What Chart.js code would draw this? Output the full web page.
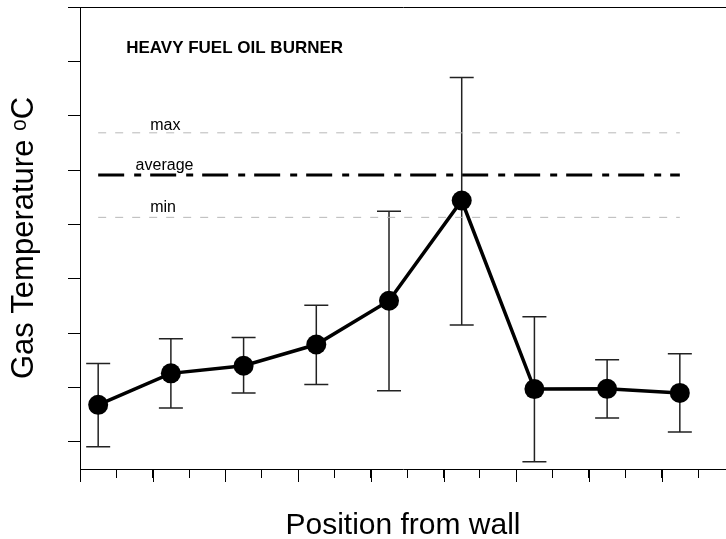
<!DOCTYPE html>
<html>
<head>
<meta charset="utf-8">
<script src="https://cdn.jsdelivr.net/npm/chart.js@4/dist/chart.umd.min.js"></script>
<style>
  html, body { margin: 0; padding: 0; background: #fff; overflow: hidden; }
  canvas { display: block; }
</style>
</head>
<body>
<canvas id="c" width="726" height="539"></canvas>
<script>
// ---- data ----
const positions = [0.5, 2.5, 4.5, 6.5, 8.5, 10.5, 12.5, 14.5, 16.5];
const gasTemp   = [236, 352, 380, 458, 619, 988, 294, 295, 280];
const tempHigh  = [388, 479, 484, 603, 948, 1441, 560, 402, 424];
const tempLow   = [82, 224, 280, 311, 288, 530, 27, 188, 136];
const maxLevel = 1237;
const avgLevel = 1082;
const minLevel = 926;
const refLabels = ['max', 'average', 'min'];
const chartTitle = 'HEAVY FUEL OIL BURNER';
const xTicks = [0,1,2,3,4,5,6,7,8,9,10,11,12,13,14,15,16,17];
const yTicks = [100,300,500,700,900,1100,1300,1500,1700];
const xTitle = 'Position from wall';
const yTitle = 'Gas Temperature \u1D52C';

const FONT = "'Liberation Sans', Arial, sans-serif";

const refLine = (v) => [{x: positions[0], y: v}, {x: positions[positions.length - 1], y: v}];

const extrasPlugin = {
  id: 'extras',
  beforeDatasetsDraw(chart) {
    const {ctx, scales: {x, y}} = chart;
    ctx.save();
    ctx.strokeStyle = '#222';
    ctx.lineWidth = 1.5;
    for (let i = 0; i < positions.length; i++) {
      const px = x.getPixelForValue(positions[i]);
      const hi = y.getPixelForValue(tempHigh[i]);
      const lo = y.getPixelForValue(tempLow[i]);
      ctx.beginPath();
      ctx.moveTo(px, hi); ctx.lineTo(px, lo);
      ctx.moveTo(px - 12, hi); ctx.lineTo(px + 12, hi);
      ctx.moveTo(px - 12, lo); ctx.lineTo(px + 12, lo);
      ctx.stroke();
    }
    ctx.restore();
  },
  afterDraw(chart) {
    const {ctx, scales: {x, y}} = chart;
    ctx.save();
    // long ticks on even positions
    ctx.strokeStyle = '#000';
    ctx.lineWidth = 1;
    const base = y.getPixelForValue(0);
    xTicks.forEach(v => {
      if (v % 2 === 0) {
        const px = Math.round(x.getPixelForValue(v)) + 0.5;
        ctx.beginPath();
        ctx.moveTo(px, base);
        ctx.lineTo(px, base + 13);
        ctx.stroke();
      }
    });
    // title
    ctx.fillStyle = '#000';
    ctx.textBaseline = 'alphabetic';
    ctx.font = 'bold 17px ' + FONT;
    ctx.fillText(chartTitle, x.getPixelForValue(1.27), y.getPixelForValue(1532));
    // reference line labels
    ctx.font = '16px ' + FONT;
    ctx.fillText(refLabels[0], x.getPixelForValue(1.93), y.getPixelForValue(maxLevel) - 3);
    ctx.fillText(refLabels[1], x.getPixelForValue(1.53), y.getPixelForValue(avgLevel) - 4.5);
    ctx.fillText(refLabels[2], x.getPixelForValue(1.93), y.getPixelForValue(minLevel) - 5.5);
    ctx.restore();
  }
};

new Chart(document.getElementById('c'), {
  type: 'line',
  data: {
    datasets: [
      {
        label: 'Gas temperature',
        data: positions.map((p, i) => ({x: p, y: gasTemp[i]})),
        borderColor: '#000',
        backgroundColor: '#000',
        borderWidth: 3.5,
        pointRadius: 10,
        pointHoverRadius: 10,
        pointBackgroundColor: '#000',
        pointBorderColor: '#000',
        pointBorderWidth: 0,
        tension: 0
      },
      {
        label: 'average',
        data: refLine(avgLevel),
        borderColor: '#000',
        borderWidth: 3,
        borderDash: [26, 10, 7, 9],
        pointRadius: 0,
        borderCapStyle: 'butt'
      },
      {
        label: 'max',
        data: refLine(maxLevel),
        borderColor: '#b8b8b8',
        borderWidth: 1,
        borderDash: [8, 9],
        pointRadius: 0
      },
      {
        label: 'min',
        data: refLine(minLevel),
        borderColor: '#b8b8b8',
        borderWidth: 1,
        borderDash: [8, 9],
        pointRadius: 0
      }
    ]
  },
  options: {
    responsive: false,
    animation: false,
    events: [],
    layout: { autoPadding: false, padding: { top: 7, right: 0, bottom: 0, left: 0 } },
    plugins: { legend: { display: false }, tooltip: { enabled: false }, title: { display: false } },
    scales: {
      x: {
        type: 'linear',
        min: 0,
        max: 17.77,
        afterBuildTicks: s => { s.ticks = xTicks.map(v => ({value: v})); },
        ticks: { display: false },
        grid: { drawOnChartArea: false, tickLength: 9, tickColor: '#000', lineWidth: 1 },
        border: { color: '#000', width: 1 },
        title: { display: true, text: xTitle, color: '#000', padding: { top: 0, bottom: 0 },
                 font: { family: FONT, size: 30, lineHeight: 0.9 } },
        afterFit: s => { s.height = 70; }
      },
      y: {
        type: 'linear',
        min: 0,
        max: 1700,
        afterBuildTicks: s => { s.ticks = yTicks.map(v => ({value: v})); },
        ticks: { display: false },
        grid: {
          drawOnChartArea: true,
          color: c => (c.tick && c.tick.value === 1700) ? '#000' : 'rgba(0,0,0,0)',
          tickColor: '#000',
          tickLength: 12,
          lineWidth: 1
        },
        border: { color: '#000', width: 1 },
        title: { display: true, text: yTitle, color: '#000', padding: { top: 9, bottom: 0 },
                 font: { family: FONT, size: 31, lineHeight: 1 } },
        afterFit: s => { s.width = 80; }
      }
    }
  },
  plugins: [extrasPlugin]
});
</script>
</body>
</html>
